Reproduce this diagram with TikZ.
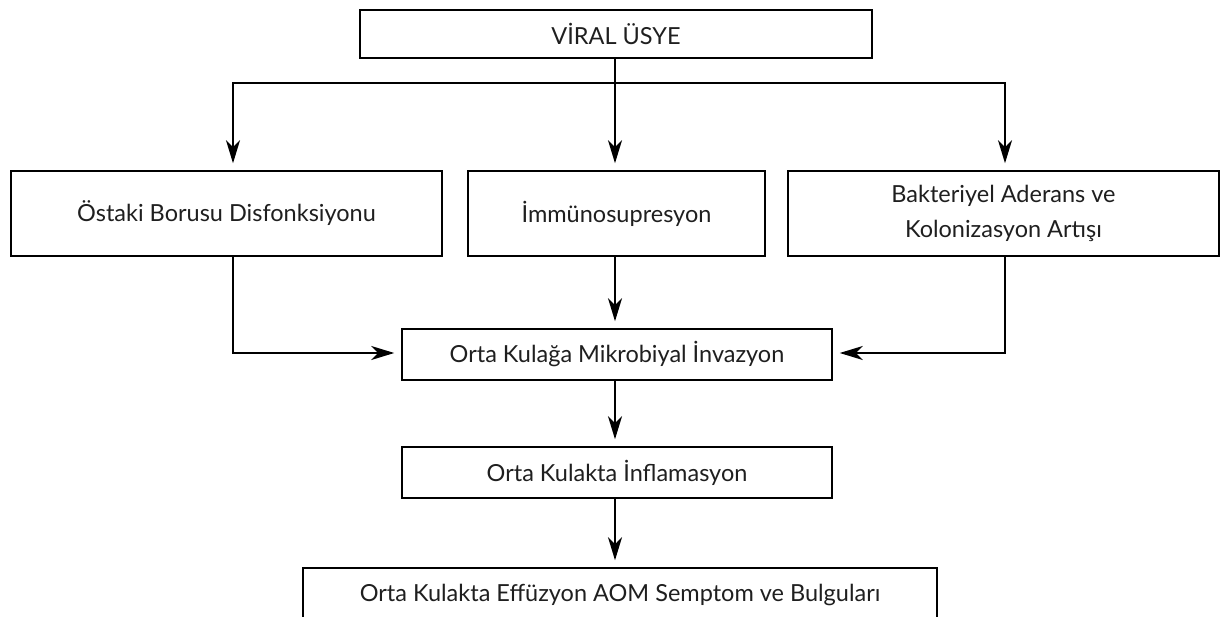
\documentclass[tikz,border=0pt]{standalone}
\usepackage{fontspec}
\setmainfont{Lato}
\usetikzlibrary{arrows.meta}
\tikzset{
  box/.style={draw=black, line width=1.5pt, rectangle, inner sep=0pt, align=center,
    font=\fontsize{23.5}{35}\selectfont, text=black!88},
  arr/.style={line width=1.5pt, -{Stealth[length=23pt, width=14pt, inset=7pt]}, shorten >=7pt},
  ln/.style={line width=1.5pt}
}
\begin{document}
\begin{tikzpicture}[x=1pt,y=-1pt]
\useasboundingbox (0,0) rectangle (1220,617);
\clip (0,0) rectangle (1220,617);
\fill[white] (0,0) rectangle (1220,617);
\node[box, minimum width=512, minimum height=48] (viral) at (616,34) {VİRAL ÜSYE};
\node[box, minimum width=431, minimum height=85] (ost) at (226.5,213.5) {Östaki Borusu Disfonksiyonu};
\node[box, minimum width=297, minimum height=85] (imm) at (616.5,213.5) {İmmünosupresyon};
\node[box, minimum width=431, minimum height=85] (bak) at (1003.5,213.5) {Bakteriyel Aderans ve\\Kolonizasyon Artışı};
\node[box, minimum width=430, minimum height=51] (inv) at (617,354.5) {Orta Kulağa Mikrobiyal İnvazyon};
\node[box, minimum width=430, minimum height=51] (inf) at (617,472.5) {Orta Kulakta İnflamasyon};
\node[box, minimum width=634, minimum height=54] (eff) at (620,595) {Orta Kulakta Effüzyon AOM Semptom ve Bulguları};
\coordinate (j) at (615,83);
\coordinate (jl) at (233,353);
\coordinate (jr) at (1005,353);
\draw[ln] (viral.south -| j) -- (j);
\draw[arr] (j) -| ([xshift=6.5pt]ost.north);
\draw[arr] (j) -| ([xshift=1.5pt]bak.north);
\draw[arr] (j) -- (imm.north -| j);
\draw[arr] ([xshift=6.5pt]ost.south) |- (inv.west |- jl);
\draw[arr] ([xshift=1.5pt]bak.south) |- (inv.east |- jr);
\draw[arr] (imm.south -| j) -- (inv.north -| j);
\draw[arr] (inv.south -| j) -- (inf.north -| j);
\draw[arr] (inf.south -| j) -- (eff.north -| j);
\end{tikzpicture}
\end{document}
